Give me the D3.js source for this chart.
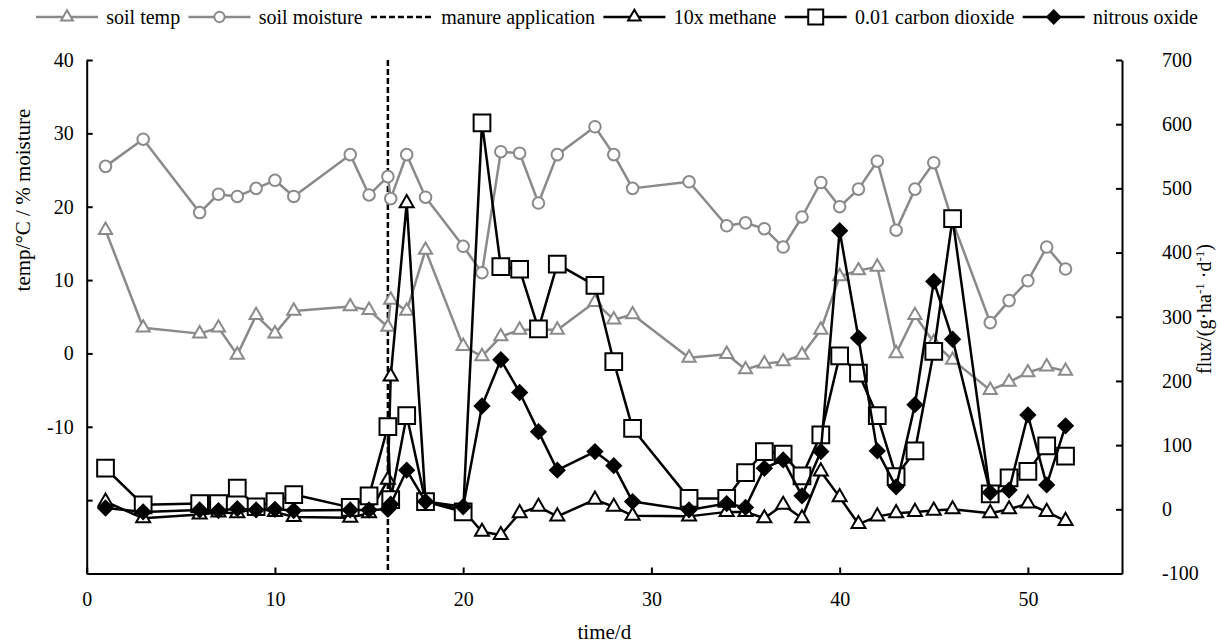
<!DOCTYPE html>
<html>
<head>
<meta charset="utf-8">
<script src="https://cdn.jsdelivr.net/npm/d3@7"></script>
<style>
  body { margin: 0; background: #fff; }
  svg text { font-family: "Liberation Serif", "Times New Roman", serif; fill: #000; }
</style>
</head>
<body>
<div id="chart"></div>
<script>
// sampling days (day 16 was sampled twice, before and after manure application)
const days = [1, 3, 6, 7, 8, 9, 10, 11, 14, 15, 16, 16.15, 17, 18, 20, 21, 22, 23, 24, 25, 27, 28, 29, 32,
  34, 35, 36, 37, 38, 39, 40, 41, 42, 43, 44, 45, 46, 48, 49, 50, 51, 52];

// left axis series
const soilTemp = [16.8, 3.5, 2.7, 3.5, -0.2, 5.2, 2.7, 5.8, 6.4, 5.9, 3.6, 7.3, 5.8, 14.1, 1.0, -0.4, 2.3, 3.2, 3.3, 3.2, 7.0, 4.6, 5.3, -0.6,
  -0.1, -2.2, -1.4, -1.1, -0.2, 3.2, 10.5, 11.3, 11.8, 0.0, 5.2, 1.5, -0.9, -5.0, -3.9, -2.6, -1.8, -2.4];
const soilMoisture = [25.5, 29.2, 19.2, 21.7, 21.4, 22.5, 23.6, 21.4, 27.1, 21.6, 24.1, 21.1, 27.1, 21.3, 14.6, 11.0, 27.5, 27.3, 20.5, 27.1, 30.9, 27.1, 22.5, 23.4,
  17.4, 17.8, 17.0, 14.5, 18.6, 23.3, 20.0, 22.4, 26.2, 16.8, 22.4, 26.0, 18.0, 4.2, 7.2, 9.9, 14.5, 11.5];

// right axis series (flux)
const methane10x = [12, -14, -8, -5, -6, 2, -4, -12, -13, -6, 46, 207, 477, 12, -1, -35, -40, -6, 4, -11, 15, 4, -10, -11,
  -4, -4, -14, 7, -14, 59, 19, -23, -11, -6, -4, -2, 0, -6, 0, 9, -4, -18];
const co2x001 = [64, 7, 9, 9, 33, 4, 12, 23, 3, 21, 129, 15, 146, 12, -4, 602, 378, 374, 281, 382, 349, 230, 126, 17,
  17, 57, 90, 86, 52, 116, 239, 212, 146, 51, 91, 246, 453, 24, 49, 59, 99, 83];
const n2o = [2, -4, -1, -2, 1, -1, 0, -2, -1, -1, 0, 8, 61, 12, 4, 161, 233, 182, 121, 61, 90, 68, 12, -1,
  9, 3, 64, 77, 21, 90, 434, 267, 91, 35, 163, 355, 265, 26, 30, 147, 38, 130];

const manureDay = 16;

const xTicks = [0, 10, 20, 30, 40, 50];
const leftTicks = [-30, -20, -10, 0, 10, 20, 30, 40];
const rightTicks = [-100, 0, 100, 200, 300, 400, 500, 600, 700];

const legendLabels = ["soil temp", "soil moisture", "manure application", "10x methane", "0.01 carbon dioxide", "nitrous oxide"];

const W = 1219, H = 644;
const gray = "#8a8a8a";
const fs = 20;

const svg = d3.select("#chart").append("svg")
  .attr("width", W)
  .attr("height", H);

svg.append("rect").attr("width", W).attr("height", H).attr("fill", "#fff");

const x = d3.scaleLinear().domain([0, 55]).range([86.7, 1122]);
const yL = d3.scaleLinear().domain([-30, 40]).range([573.5, 60]);
const yR = d3.scaleLinear().domain([-100, 700]).range([573.5, 60]);

const fmt = d => String(d);

// axes
const axisL = svg.append("g")
  .attr("transform", `translate(${x(0)},0)`)
  .call(d3.axisLeft(yL).tickValues(leftTicks).tickSizeInner(-6).tickSizeOuter(0).tickPadding(13)
    .tickFormat(d => d >= -10 ? fmt(d) : ""));

const axisR = svg.append("g")
  .attr("transform", `translate(${x(55)},0)`)
  .call(d3.axisRight(yR).tickValues(rightTicks).tickSizeInner(-6).tickSizeOuter(0).tickPadding(40).tickFormat(fmt));

const axisB = svg.append("g")
  .attr("transform", `translate(0,${yL(-30)})`)
  .call(d3.axisBottom(x).tickValues(xTicks).tickSizeInner(-6).tickSizeOuter(0).tickPadding(18).tickFormat(fmt));

[axisL, axisR, axisB].forEach(g => {
  g.attr("font-family", null);
  g.select(".domain").attr("stroke", "#000").attr("stroke-width", 2);
  g.selectAll(".tick line").attr("stroke", "#000").attr("stroke-width", 2);
  g.selectAll(".tick text").attr("font-size", fs).attr("fill", "#000");
});

// axis titles
svg.append("text")
  .attr("transform", `translate(30,200) rotate(-90)`)
  .attr("text-anchor", "middle")
  .attr("font-size", 21)
  .text("temp/°C / % moisture");

const rt = svg.append("text")
  .attr("transform", `translate(1211,309) rotate(-90)`)
  .attr("text-anchor", "middle")
  .attr("font-size", 20);
rt.append("tspan").text("flux/(g·ha");
rt.append("tspan").attr("font-size", 13).attr("dy", -7).text("-1");
rt.append("tspan").attr("dy", 7).text(" ·d");
rt.append("tspan").attr("font-size", 13).attr("dy", -7).text("-1");
rt.append("tspan").attr("dy", 7).text(")");

svg.append("text")
  .attr("x", (x(0) + x(55)) / 2)
  .attr("y", 639)
  .attr("text-anchor", "middle")
  .attr("font-size", 21)
  .text("time/d");

// manure application
svg.append("line")
  .attr("x1", x(manureDay)).attr("x2", x(manureDay))
  .attr("y1", yL(40)).attr("y2", yL(-30))
  .attr("stroke", "#000")
  .attr("stroke-width", 2.5)
  .attr("stroke-dasharray", "6,3");

// marker shapes
const sym = {
  triGray: { type: d3.symbolTriangle, size: 75, fill: "#fff", stroke: gray, rot: 0 },
  circle: { type: d3.symbolCircle, size: 105, fill: "#fff", stroke: gray, rot: 0 },
  triBlack: { type: d3.symbolTriangle, size: 85, fill: "#fff", stroke: "#000", rot: 0 },
  square: { type: d3.symbolSquare, size: 280, fill: "#fff", stroke: "#000", rot: 0 },
  diamond: { type: d3.symbolSquare, size: 105, fill: "#000", stroke: "#000", rot: 45 }
};

const series = [
  { values: soilTemp, y: yL, color: gray, marker: sym.triGray },
  { values: soilMoisture, y: yL, color: gray, marker: sym.circle },
  { values: methane10x, y: yR, color: "#000", marker: sym.triBlack },
  { values: co2x001, y: yR, color: "#000", marker: sym.square },
  { values: n2o, y: yR, color: "#000", marker: sym.diamond }
];

series.forEach(s => {
  const pts = days.map((d, i) => [d, s.values[i]]);
  const line = d3.line().x(d => x(d[0])).y(d => s.y(d[1]));
  const g = svg.append("g");
  g.append("path")
    .datum(pts)
    .attr("d", line)
    .attr("fill", "none")
    .attr("stroke", s.color)
    .attr("stroke-width", 2.5)
    .attr("stroke-linejoin", "round");
  g.selectAll("path.mk")
    .data(pts)
    .join("path")
    .attr("class", "mk")
    .attr("d", d3.symbol().type(s.marker.type).size(s.marker.size))
    .attr("transform", d => `translate(${x(d[0])},${s.y(d[1])}) rotate(${s.marker.rot})`)
    .attr("fill", s.marker.fill)
    .attr("stroke", s.marker.stroke)
    .attr("stroke-width", 2);
});

// legend across the top, spread from left edge to right edge
const legendStyles = [
  { color: gray, marker: sym.triGray },
  { color: gray, marker: sym.circle },
  { color: "#000", marker: null, dash: "6,3" },
  { color: "#000", marker: sym.triBlack },
  { color: "#000", marker: sym.square },
  { color: "#000", marker: sym.diamond }
];

const ly = 17, lineLen = 62, lStart = 36, lEnd = 1198;
const lg = svg.append("g");
const texts = legendLabels.map(label => lg.append("text")
  .attr("y", ly)
  .attr("dy", "0.35em")
  .attr("font-size", fs)
  .text(label));
const textW = texts.map(t => t.node().getComputedTextLength());
const gap = (lEnd - lStart - d3.sum(textW) - lineLen * legendLabels.length) / (legendLabels.length * 2 - 1);

let lx = lStart;
legendLabels.forEach((label, i) => {
  const st = legendStyles[i];
  lg.append("line")
    .attr("x1", lx).attr("x2", lx + lineLen)
    .attr("y1", ly).attr("y2", ly)
    .attr("stroke", st.color)
    .attr("stroke-width", 2.5)
    .attr("stroke-dasharray", st.dash || null);
  if (st.marker) {
    lg.append("path")
      .attr("d", d3.symbol().type(st.marker.type).size(st.marker.size * 0.8))
      .attr("transform", `translate(${lx + lineLen / 2},${ly}) rotate(${st.marker.rot})`)
      .attr("fill", st.marker.fill)
      .attr("stroke", st.marker.stroke)
      .attr("stroke-width", 2);
  }
  texts[i].attr("x", lx + lineLen + gap);
  lx += lineLen + gap + textW[i] + gap;
});
</script>
</body>
</html>
